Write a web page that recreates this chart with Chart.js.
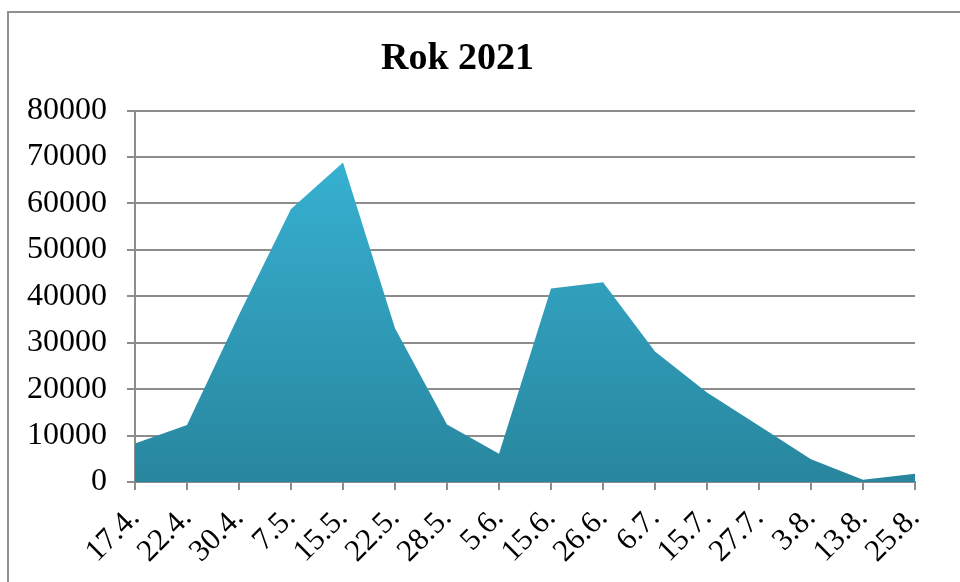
<!DOCTYPE html>
<html>
<head>
<meta charset="utf-8">
<script src="https://cdn.jsdelivr.net/npm/chart.js@4"></script>
<style>
  html, body { margin: 0; padding: 0; background: #fff; overflow: hidden; }
  #frame { position: absolute; left: 7px; top: 11px; width: 1000px; height: 640px; border: 2px solid #8f8f8f; }
  #wrap { position: absolute; left: 0; top: 0; width: 960px; height: 582px; }
</style>
</head>
<body>
<div id="frame"></div>
<div id="wrap"><canvas id="chart" width="960" height="582"></canvas></div>
<script>
const dates = ['17.4.', '22.4.', '30.4.', '7.5.', '15.5.', '22.5.', '28.5.', '5.6.',
  '15.6.', '26.6.', '6.7.', '15.7.', '27.7.', '3.8.', '13.8.', '25.8.'];
const counts = [8300, 12300, 36000, 58800, 68800, 33100, 12400, 6100,
  41700, 43000, 28100, 19300, 12100, 4900, 500, 1800];
const yTicks = [0, 10000, 20000, 30000, 40000, 50000, 60000, 70000, 80000];

const serif = 'Liberation Serif, Times New Roman, serif';
const gridColor = '#8c8c8c';

const ctx = document.getElementById('chart');

const chart = new Chart(ctx, {
  type: 'line',
  data: {
    labels: dates,
    datasets: [{
      label: 'Rok 2021',
      data: counts,
      fill: 'origin',
      borderWidth: 0,
      pointRadius: 0,
      tension: 0,
      backgroundColor: function (c) {
        const area = c.chart.chartArea;
        if (!area) return '#30a0bc';
        const g = c.chart.ctx.createLinearGradient(0, area.top, 0, area.bottom);
        g.addColorStop(0, '#39b7d9');
        g.addColorStop(1, '#28869e');
        return g;
      }
    }]
  },
  options: {
    responsive: false,
    animation: false,
    layout: { padding: { left: 0, right: 45, top: 0, bottom: 0 } },
    plugins: {
      legend: { display: false },
      tooltip: { enabled: false },
      title: {
        display: true,
        text: 'Rok 2021',
        color: '#000',
        font: { family: serif, size: 38, weight: 'bold' },
        padding: { top: 36, bottom: 29 }
      }
    },
    scales: {
      x: {
        offset: false,
        grid: { drawOnChartArea: false, drawTicks: true, tickLength: 8, color: gridColor, lineWidth: 2 },
        border: { display: true, color: gridColor, width: 2 },
        ticks: {
          color: '#000',
          font: { family: serif, size: 31 },
          maxRotation: 45,
          minRotation: 45,
          autoSkip: false,
          padding: 10
        },
        afterFit: function (s) { s.height = 100; }
      },
      y: {
        min: 0,
        max: 80000,
        afterBuildTicks: function (s) { s.ticks = yTicks.map(v => ({ value: v })); },
        grid: { color: gridColor, lineWidth: 2, tickLength: 8 },
        border: { display: true, color: gridColor, width: 2 },
        ticks: {
          color: '#000',
          font: { family: serif, size: 32 },
          padding: 20,
          callback: function (v) { return String(v); }
        },
        afterFit: function (s) { s.width = 135; }
      }
    }
  }
});
</script>
</body>
</html>
